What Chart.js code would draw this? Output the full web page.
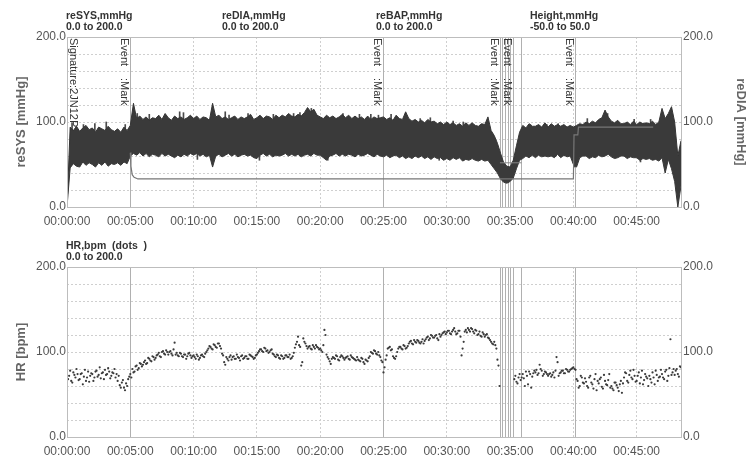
<!DOCTYPE html>
<html lang="en">
<head>
<meta charset="UTF-8" />
<title>reSYS / HR trend</title>
<script src="https://cdn.jsdelivr.net/npm/chart.js@4.4.1/dist/chart.umd.min.js"></script>
<style>
  body { margin: 0; background: #fff; }
  #wrap { position: relative; width: 750px; height: 476px; }
  canvas { position: absolute; left: 0; }
</style>
</head>
<body>
<div id="wrap">
  <canvas id="bpChart" width="750" height="235" style="top:0"></canvas>
  <canvas id="hrChart" width="750" height="241" style="top:235px"></canvas>
</div>
<script>
// time axis is in minutes
const X_MAX = 48.5;

// reSYS band: upper / lower envelope of the pressure waveform, one pair every 15 s
const SYS_STEP = 0.25;
const sysHigh = [
  0, 94, 90, 95,  89, 93, 96, 91,  93, 88, 94, 92,  90, 95, 91, 89,  92, 88, 94, 90,      // 0-4
  96, 122, 104, 107,  103, 106, 102, 105,  104, 108, 103, 110,  105, 102, 107, 104,  106, 103, 105, 108, // 5-9
  104, 107, 103, 106,  105, 102, 122, 106,  108, 104, 106, 103,  105, 107, 103, 106,  104, 106, 109, 103, // 10-14
  105, 108, 104, 107,  106, 103, 108, 105,  108, 106, 110, 107,  106, 109, 107, 111,  117, 112, 115, 108, // 15-19
  106, 104, 108, 105,  107, 104, 106, 109,  105, 108, 104, 107,  104, 106, 103, 107,  103, 106, 104, 105, // 20-24
  106, 103, 105, 102,  108, 104, 103, 112,  104, 101, 103, 100,  102, 99, 103, 100,  101, 98, 100, 97,   // 25-29
  100, 97, 99, 96,  98, 95, 99, 96,  99, 96, 95, 98,  97, 106, 90, 84,  75, 63, 52, 48,            // 30-34
  47, 55, 72, 88,  96, 93, 98, 95,  95, 97, 94, 99,  94, 98, 95, 97,  95, 97, 94, 96,              // 35-39
  94, 96, 98, 97,  100, 98, 101, 99,  103, 105, 114, 106,  101, 99, 102, 98,  98, 100, 97, 101,     // 40-44
  97, 100, 98, 99,  98, 101, 97, 100,  116, 104, 110, 118,  100, 60, 78                           // 45-48.5
];
const sysLow = [
  0, 46, 51, 48,  47, 53, 49, 52,  50, 47, 52, 49,  53, 48, 51, 50,  52, 49, 53, 51,
  60, 63, 61, 64,  60, 63, 59, 62,  61, 59, 63, 60,  62, 60, 58, 61,  59, 62, 60, 63,
  61, 63, 60, 62,  59, 61, 47, 60,  62, 59, 61, 63,  60, 62, 59, 61,  62, 60, 61, 58,
  57, 61, 63, 60,  62, 59, 61, 60,  61, 63, 60, 62,  60, 62, 59, 61,  62, 60, 63, 61,
  61, 58, 55, 60,  61, 63, 60, 62,  60, 62, 61, 59,  62, 60, 61, 63,  61, 59, 62, 60,
  59, 61, 58, 60,  61, 58, 60, 57,  59, 57, 60, 58,  60, 57, 59, 56,  59, 57, 58, 55,
  57, 55, 58, 56,  58, 54, 56, 55,  57, 55, 54, 56,  54, 55, 50, 45,  40, 33, 29, 28,
  30, 34, 45, 55,  57, 60, 58, 61,  58, 61, 59, 60,  59, 60, 58, 62,  58, 61, 59, 60,
  50, 47, 58, 60,  60, 57, 59, 58,  61, 59, 60, 62,  59, 57, 58, 60,  60, 57, 59, 58,
  58, 55, 57, 56,  57, 55, 56, 54,  58, 40, 56, 45,  30, 0, 25
];

// single-beat hairs sticking out of the band
const spikeTime = [0.4, 1.3, 2.2, 3.1, 4.6, 5.55, 6.5, 8.9, 9.2, 12.5, 12.8, 14.3, 16.3, 17.9, 18.4, 19.3,
  21.8, 23.1, 24.0, 24.6, 25.6, 27.9, 28.7, 30.5, 31.3, 36.6, 37.9, 38.8, 41.1, 42.7, 44.8, 46.1,
  15.2, 20.6, 40.1, 10.3, 29.4, 45.3];
const spikeLow = [60, 60, 60, 60, 60, 70, 70, 70, 70, 70, 70, 70, 70, 70, 70, 70,
  70, 70, 70, 70, 70, 70, 70, 70, 70, 70, 70, 70, 70, 70, 70, 70,
  55, 55, 47, 56, 55, 53];
const spikeHigh = [99, 97, 98, 100, 97, 110, 109, 112, 111, 112, 108, 110, 109, 110, 111, 116,
  110, 109, 109, 108, 109, 104, 105, 101, 100, 97, 97, 98, 104, 110, 103, 103,
  80, 80, 80, 80, 80, 80];

// Height channel (-50 .. 50 mmHg), hidden inside the band before 5 min
const heightTime = [5.0, 5.05, 5.15, 5.3, 5.6, 40.0, 40.05, 40.35, 40.4, 46.3];
const heightVals = [-18, -26, -31, -32.5, -33.5, -33.5, -7.6, -7.6, -3, -3];

// short reBAP level during the 34-36 min dip
const bapTime = [34.2, 35.9];
const bapVals = [52, 52];

// HR, two interleaved reading sets, each one value every 10 s (B is 5 s later)
const HR_STEP = 1 / 6;
const hrValuesA = [
  55, 72, 66, 76, 70, 74,   // 0
  68, 75, 71, 66, 77, 72,   // 1
  74, 70, 78, 73, 69, 76,   // 2
  79, 74, 77, 72, 75, 70,   // 3
  66, 61, 64, 58, 63, 68,   // 4
  74, 80, 77, 84, 81, 86,   // 5
  85, 90, 87, 92, 89, 94,   // 6
  93, 97, 95, 100, 98, 102, // 7
  97, 101, 96, 111, 99, 95, // 8
  98, 94, 97, 95, 99, 93,   // 9
  96, 92, 95, 93, 97, 94,   // 10
  100, 104, 106, 103, 108, 105, // 11
  110, 104, 96, 85, 92, 94, // 12
  91, 95, 92, 94, 90, 96,   // 13
  93, 95, 92, 96, 94, 93,   // 14
  97, 101, 103, 100, 104, 102, // 15
  100, 103, 97, 94, 96, 92, // 16
  95, 93, 96, 94, 92, 95,   // 17
  105, 112, 108, 84, 116, 110, // 18
  104, 107, 103, 106, 108, 105, // 19
  104, 100, 126, 97, 92, 86, // 20
  94, 92, 95, 90, 96, 93,   // 21
  93, 95, 91, 94, 92, 90,   // 22
  91, 89, 92, 86, 90, 93,   // 23
  100, 98, 101, 97, 96, 90, // 24
  76, 91, 104, 106, 103, 93, // 25
  95, 104, 106, 103, 107, 105, // 26
  110, 113, 109, 112, 114, 111, // 27
  112, 110, 115, 118, 116, 119, // 28
  117, 120, 114, 118, 122, 124, // 29
  123, 125, 121, 126, 124, 122, // 30
  125, 96, 112, 126, 128, 124, // 31
  127, 122, 125, 121, 119, 123, // 32
  118, 121, 116, 112, 109, 108, // 33
  91, 60, null, null, null, null, // 34
  null, null, 68, 65, 70, 67, // 35
  74, 60, 72, 77, 58, 75,   // 36
  76, 73, 85, 78, 74, 76,   // 37
  72, 75, 73, 70, 94, 72,   // 38
  76, 78, 75, 79, 77, 80,   // 39
  82, 79, 66, 60, 70, 63,   // 40
  65, 58, 72, 62, 68, 55,   // 41
  63, 70, 57, 66, 61, 74,   // 42
  60, 55, 64, 58, 62, 52,   // 43
  70, 75, 64, 78, 68, 72,   // 44
  66, 76, 70, 62, 74, 69,   // 45
  72, 64, 70, 78, 66, 71,   // 46
  74, 68, 79, 72, 115, 76,  // 47
  73, 80, 71, 82            // 48
];
const hrValuesB = [
  68, 78, 64, 73, 80, 67,   // 0
  74, 62, 79, 70, 65, 75,   // 1
  66, 77, 71, 82, 75, 68,   // 2
  73, 81, 69, 76, 80, 74,   // 3
  72, 58, 67, 55, 60, 71,   // 4
  70, 76, 83, 79, 87, 83,   // 5
  88, 86, 93, 90, 95, 91,   // 6
  96, 99, 94, 101, 97, 100, // 7
  100, 98, 103, 97, 96, 99, // 8
  95, 97, 92, 98, 96, 95,   // 9
  94, 97, 91, 96, 95, 98,   // 10
  102, 107, 104, 109, 106, 110, // 11
  107, 98, 88, 94, 90, 96,  // 12
  94, 92, 97, 93, 95, 92,   // 13
  95, 92, 97, 95, 92, 96,   // 14
  99, 103, 101, 105, 101, 99, // 15
  102, 98, 95, 97, 93, 96,  // 16
  92, 96, 94, 97, 93, 99,   // 17
  109, 118, 106, 88, 112, 107, // 18
  106, 104, 108, 104, 106, 103, // 19
  102, 108, 120, 94, 89, 92, // 20
  93, 96, 91, 94, 95, 91,   // 21
  94, 92, 96, 93, 91, 94,   // 22
  90, 93, 88, 91, 89, 95,   // 23
  99, 102, 98, 100, 94, 88, // 24
  82, 96, 105, 102, 95, 92, // 25
  100, 106, 104, 108, 104, 107, // 26
  112, 110, 114, 111, 113, 110, // 27
  115, 113, 117, 114, 120, 117, // 28
  119, 116, 121, 120, 123, 121, // 29
  125, 122, 124, 128, 121, 125, // 30
  118, 104, 124, 123, 126, 128, // 31
  124, 126, 120, 124, 118, 121, // 32
  120, 117, 114, 110, 112, 104, // 33
  84, null, null, null, null, null, // 34
  null, null, 72, 63, 74, 70, // 35
  69, 77, 62, 74, 71, 78,   // 36
  79, 75, 80, 72, 77, 74,   // 37
  74, 71, 76, 78, 88, 75,   // 38
  78, 75, 80, 77, 79, 81,   // 39
  80, 68, 58, 72, 64, 69,   // 40
  60, 70, 64, 57, 74, 66,   // 41
  68, 59, 73, 62, 67, 58,   // 42
  57, 64, 61, 54, 66, 63,   // 43
  76, 66, 73, 70, 79, 65,   // 44
  72, 63, 78, 67, 71, 60,   // 45
  68, 76, 62, 73, 70, 79,   // 46
  70, 77, 66, 81, 73, 80,   // 47
  78, 74, 83                // 48
];

// event marks (minutes), and which of them carry an "Event :Mark" label
const eventTimes = [5.0, 25.0, 34.2, 34.35, 34.6, 34.8, 35.0, 35.25, 35.9, 40.1];
const labeledEvents = [5.0, 25.0, 34.2, 35.25, 40.1];

const topHeaders = [
  ["reSYS,mmHg", "0.0 to 200.0"],
  ["reDIA,mmHg", "0.0 to 200.0"],
  ["reBAP,mmHg", "0.0 to 200.0"],
  ["Height,mmHg", "-50.0 to 50.0"]
];
const bottomHeaders = [["HR,bpm  (dots  )", "0.0 to 200.0"]];

const FONT = "'Liberation Sans', Arial, sans-serif";
const tickFont = { family: FONT, size: 12 };
const fmtTime = v => "00:" + String(v).padStart(2, "0") + ":00";
const stepped = (ys, step, offset) => {
  const out = [];
  ys.forEach((y, i) => { if (y !== null) out.push({ x: offset + i * step, y: y }); });
  return out;
};
const pairs = (xs, ys) => xs.map((x, i) => ({ x: x, y: ys[i] }));

function xAxis(h) {
  return {
    type: "linear", min: 0, max: X_MAX, offset: false,
    afterBuildTicks: s => { s.ticks = s.ticks.filter(t => t.value % 5 === 0); },
    afterFit: s => { s.height = h; },
    ticks: { stepSize: 5, color: "#555", font: tickFont, padding: 7, maxRotation: 0, autoSkip: false, callback: v => fmtTime(v) },
    grid: { color: "#cfcfcf", drawTicks: false, offset: false },
    border: { display: false, dash: [2, 2] }
  };
}

function yAxis(pos, titleText) {
  return {
    position: pos, min: 0, max: 200,
    afterFit: s => { s.width = pos === "left" ? 67 : 69; },
    ticks: { stepSize: 20, autoSkip: false, color: "#555", font: tickFont, padding: pos === "left" ? 1 : 2,
      callback: v => (v % 100 === 0 ? v.toFixed(1) : "") },
    grid: { display: pos === "left", color: "#cfcfcf", drawTicks: false },
    border: { display: false, dash: [2, 2] },
    title: { display: !!titleText, text: titleText || "", color: "#666",
      font: { family: FONT, size: 13, weight: "bold" },
      padding: { top: pos === "left" ? 14 : 2, bottom: 0 } }
  };
}

function decor(headers, headerY, withLabels) {
  return {
    id: "decor",
    beforeDatasetsDraw(chart) {
      const ctx = chart.ctx, a = chart.chartArea, xs = chart.scales.x;
      ctx.save();
      ctx.strokeStyle = "#b0b0b0";
      ctx.lineWidth = 1;
      eventTimes.forEach(t => {
        const x = Math.round(xs.getPixelForValue(t)) + 0.5;
        ctx.beginPath(); ctx.moveTo(x, a.top); ctx.lineTo(x, a.bottom); ctx.stroke();
      });
      if (withLabels) {
        ctx.fillStyle = "#333";
        ctx.font = "11px " + FONT;
        ctx.textBaseline = "middle";
        ctx.translate(a.left + 6, a.top + 1);
        ctx.rotate(Math.PI / 2);
        ctx.fillText("Signature:2JN12P12", 0, 0);
      }
      ctx.restore();
    },
    afterDatasetsDraw(chart) {
      const ctx = chart.ctx, a = chart.chartArea, xs = chart.scales.x;
      ctx.save();
      ctx.strokeStyle = "#bdbdbd";
      ctx.lineWidth = 1;
      ctx.strokeRect(Math.round(a.left) + 0.5, Math.round(a.top) + 0.5,
        Math.round(a.right - a.left), Math.round(a.bottom - a.top));
      if (withLabels) {
        ctx.fillStyle = "#333";
        ctx.font = "11px " + FONT;
        ctx.textBaseline = "middle";
        labeledEvents.forEach(t => {
          const x = xs.getPixelForValue(t) - 6;
          ctx.save();
          ctx.translate(x, a.top + 1);
          ctx.rotate(Math.PI / 2);
          ctx.fillText("Event", 0, 0);
          ctx.fillText(":Mark", 40, 0);
          ctx.restore();
        });
      }
      ctx.fillStyle = "#333";
      ctx.font = "bold 10.5px " + FONT;
      ctx.textBaseline = "middle";
      const hx = [66, 222, 376, 530];
      headers.forEach((h, i) => {
        ctx.fillText(h[0], hx[i], headerY);
        ctx.fillText(h[1], hx[i], headerY + 11);
      });
      ctx.restore();
    }
  };
}

const common = {
  responsive: false,
  animation: false,
  events: [],
  plugins: { legend: { display: false }, tooltip: { enabled: false } }
};

new Chart(document.getElementById("bpChart"), {
  type: "line",
  data: {
    datasets: [
      { label: "reSYS low", data: stepped(sysLow, SYS_STEP, 0), borderColor: "#353535", borderWidth: 1,
        pointRadius: 0, tension: 0, fill: false, order: 3 },
      { label: "reSYS", data: stepped(sysHigh, SYS_STEP, 0), borderColor: "#353535", borderWidth: 1,
        pointRadius: 0, tension: 0, fill: "-1", backgroundColor: "#3a3a3a", order: 2 },
      { label: "Height", data: pairs(heightTime, heightVals), yAxisID: "yH", borderColor: "#777",
        borderWidth: 1.2, pointRadius: 0, tension: 0, fill: false, order: 0 },
      { label: "reBAP", data: pairs(bapTime, bapVals), borderColor: "#888",
        borderWidth: 1, pointRadius: 0, tension: 0, fill: false, order: 1 },
      { type: "bar", label: "beats", data: spikeTime.map((t, i) => ({ x: t, y: [spikeLow[i], spikeHigh[i]] })),
        backgroundColor: "#4a4a4a", barThickness: 1, grouped: false, order: 4 }
    ]
  },
  options: Object.assign({}, common, {
    layout: { padding: { top: 37, left: 0, right: 0, bottom: 0 } },
    scales: {
      x: xAxis(28),
      y: yAxis("left", "reSYS [mmHg]"),
      y2: yAxis("right", "reDIA [mmHg]"),
      yH: { display: false, min: -50, max: 50 }
    }
  }),
  plugins: [decor(topHeaders, 16, true)]
});

const hrPoints = stepped(hrValuesA, HR_STEP, 0).concat(stepped(hrValuesB, HR_STEP, HR_STEP / 2));

new Chart(document.getElementById("hrChart"), {
  type: "scatter",
  data: {
    datasets: [
      { label: "HR", data: hrPoints, pointRadius: 1.1, pointBackgroundColor: "#3a3a3a",
        pointBorderWidth: 0, showLine: false }
    ]
  },
  options: Object.assign({}, common, {
    layout: { padding: { top: 32, left: 0, right: 0, bottom: 0 } },
    scales: {
      x: xAxis(39),
      y: yAxis("left", "HR [bpm]"),
      y2: yAxis("right", null)
    }
  }),
  plugins: [decor(bottomHeaders, 11, false)]
});
</script>
</body>
</html>
